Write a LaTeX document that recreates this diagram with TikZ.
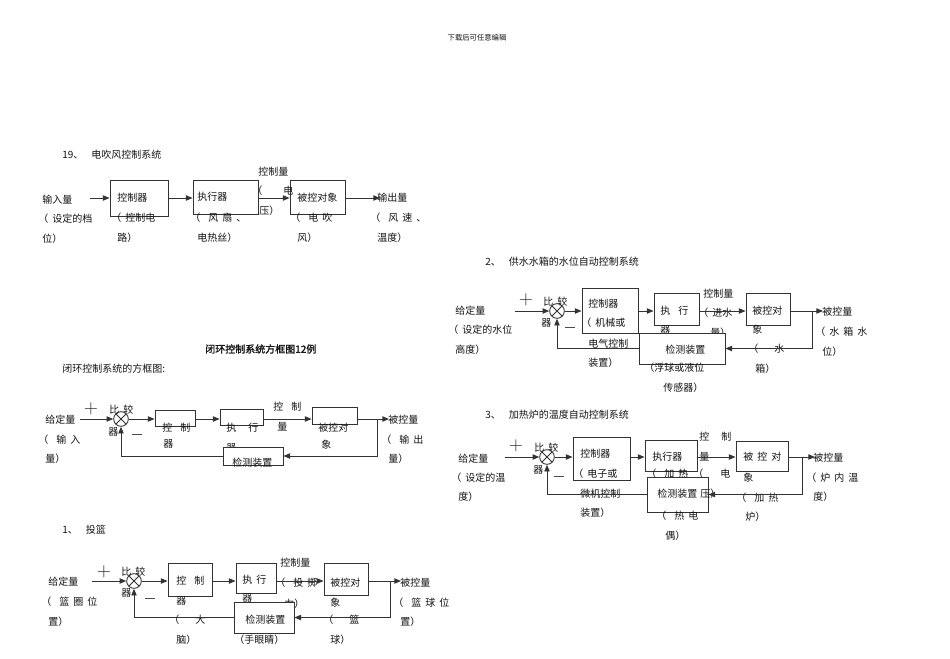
\documentclass[tikz,border=0pt]{standalone}
\usepackage{fontspec}
\newfontfamily\cjk{Noto Sans CJK SC}
\newfontfamily\cjkb[FakeBold=1.5]{Noto Sans CJK SC}
\usetikzlibrary{arrows.meta,fit}
\newcommand\gp{\hspace{3pt}}
\newcommand\gq{\hspace{6pt}}
\begin{document}
\begin{tikzpicture}[x=0.75pt,y=-0.75pt,
 txt/.style={anchor=west,inner sep=0pt,font=\cjk\fontsize{7.5}{9}\selectfont,text=black!92},
 ptx/.style={txt,xshift=-3pt},
 box/.style={draw=black!80,line width=0.65pt,inner sep=0pt},
 mbox/.style={box,fill=white},
 cmp/.style={draw=black!80,line width=0.65pt,circle,minimum size=11pt,inner sep=0pt,
   path picture={\draw[line width=0.65pt,black!80] (path picture bounding box.north west) -- (path picture bounding box.south east) (path picture bounding box.north east) -- (path picture bounding box.south west);}},
 arr/.style={line width=0.65pt,draw=black!80,-{Triangle[length=5pt,width=4pt]}},
 plussign/.style={inner sep=0pt,font=\fontsize{14}{14}\selectfont,text=black!85},
 minussign/.style={inner sep=0pt,text=black!70}]
\useasboundingbox (0,0) rectangle (950,658);
\fill[white] (0,0) rectangle (950,658);

% header
\node[txt,anchor=center,font=\cjk\fontsize{5.5}{6}\selectfont] (hdr) at (477,38) {下载后可任意编辑};

% ================= 19 =================
\node[txt] (h19) at (62,155) {19、\gq 电吹风控制系统};
\node[box,fit={(110,180)(168,216)}] (a1) {};
\node[box,fit={(193,180)(258,214)}] (a2) {};
\node[box,fit={(290,180)(345,214)}] (a3) {};
\coordinate (ai) at (90,198);
\coordinate (ao) at (380,198);
\draw[arr] (ai) -- (a1.west |- ai);
\draw[arr] (a1.east |- ai) -- (a2.west |- ai);
\draw[arr] (a2.east |- ai) -- (a3.west |- ai);
\draw[arr] (a3.east |- ai) -- (ao);
\node[txt] (a1t1) at (42,200) {输入量};
\node[ptx] (a1t2) at (42,219) {（\gp 设定的档};
\node[txt] (a1t3) at (42,239) {位）};
\node[txt] (a1t4) at (117,198) {控制器};
\node[ptx] (a1t5) at (115,218) {（\gp 控制电};
\node[txt] (a1t6) at (117,238) {路）};
\node[txt] (a2t1) at (197,197) {执行器};
\node[ptx] (a2t2) at (194,218) {（\gq 风\gp 扇\gp 、};
\node[txt] (a2t3) at (197,238) {电热丝）};
\node[txt] (a2t4) at (258,172) {控制量};
\node[ptx] (a2t5) at (256,191) {（};
\node[txt] (a2t6) at (283,191) {电};
\node[txt] (a2t7) at (259,211) {压）};
\node[txt] (a3t1) at (297,198) {被控对象};
\node[ptx] (a3t2) at (294,218) {（\gq 电\gp 吹};
\node[txt] (a3t3) at (297,238) {风）};
\node[txt] (a3t4) at (377,198) {输出量};
\node[ptx] (a3t5) at (374,218) {（\gq 风\gp 速\gp 、};
\node[txt] (a3t6) at (377,238) {温度）};

% ================= title =================
\node[txt,font=\cjkb\fontsize{7.5}{9}\selectfont] (ttl) at (205,349) {闭环控制系统方框图12例};
\node[txt] (sub) at (62,369) {闭环控制系统的方框图:};

% ================= generic loop =================
\node[plussign] (gpl) at (91,409) {+};
\node[minussign] (gmi) at (137,434) {\rule{7.5pt}{0.75pt}};
\node[cmp] (s0) at (121,419) {};
\node[txt] (s0t1) at (109,410) {比\gp 较};
\node[txt] (s0t2) at (108,432) {器};
\node[txt] (g0t1) at (45,420) {给定量};
\node[ptx] (g0t2) at (42,440) {（\gq 输\gp 入};
\node[txt] (g0t3) at (45,459) {量）};
\node[box,fit={(155,410)(195,426)}] (g1) {};
\node[box,fit={(220,409)(263,425)}] (g2) {};
\node[box,fit={(312,407)(357,424)}] (g3) {};
\node[txt] (g1t1) at (162,428) {控\gq 制};
\node[txt] (g1t2) at (163,444) {器};
\node[txt] (g2t1) at (226,428) {执\gq\gp 行};
\node[txt] (g2t2) at (226,448) {器};
\node[txt] (g2t3) at (273,407) {控\gq 制};
\node[txt] (g2t4) at (277,427) {量};
\node[txt] (g3t1) at (318,428) {被控对};
\node[txt] (g3t2) at (321,445) {象};
\node[txt] (g3t3) at (388,420) {被控量};
\node[ptx] (g3t4) at (385,440) {（\gq 输\gp 出};
\node[txt] (g3t5) at (388,459) {量）};
\node[mbox,fit={(223,447)(283,465)}] (g4) {};
\node[txt] (g4t) at (232,463) {检测装置};
\coordinate (gi) at (80,419);
\coordinate (gb) at (377,419);
\coordinate (go) at (389,419);
\draw[arr] (gi) -- (s0.west);
\draw[arr] (s0.east) -- (g1.west |- s0);
\draw[arr] (g1.east |- s0) -- (g2.west |- s0);
\draw[arr] (g2.east |- s0) -- (g3.west |- s0);
\draw[arr] (g3.east |- s0) -- (go);
\draw[arr] (gb) |- (g4.east);
\draw[arr] (g4.west) -| (s0.south);

% ================= 1 投篮 =================
\node[txt] (h1) at (62,530) {1、\gq 投篮};
\node[plussign] (bpl) at (104,572) {+};
\node[minussign] (bmi) at (150,598) {\rule{7.5pt}{0.75pt}};
\node[cmp] (s1) at (134,581) {};
\node[txt] (s1t1) at (121,572) {比\gp 较};
\node[txt] (s1t2) at (121,593) {器};
\node[txt] (b0t1) at (48,582) {给定量};
\node[ptx] (b0t2) at (45,602) {（\gq 篮\gp 圈\gp 位};
\node[txt] (b0t3) at (48,622) {置）};
\node[box,fit={(168,563)(212,596)}] (b1) {};
\node[box,fit={(236,563)(276,593)}] (b2) {};
\node[box,fit={(324,563)(368,595)}] (b3) {};
\node[txt] (b1t1) at (176,581) {控\gq 制};
\node[txt] (b1t2) at (176,601) {器};
\node[ptx] (b1t3) at (173,620) {（\gq\gq 大};
\node[txt] (b1t4) at (176,640) {脑）};
\node[txt] (b2t1) at (242,580) {执\gp 行};
\node[txt] (b2t2) at (242,598) {器};
\node[txt] (b2t3) at (280,563) {控制量};
\node[ptx] (b2t4) at (279,583) {（\gq 投\gp 掷};
\node[txt] (b2t5) at (284,604) {力）};
\node[txt] (b3t1) at (330,583) {被控对};
\node[txt] (b3t2) at (330,603) {象};
\node[ptx] (b3t3) at (327,620) {（\gq\gq 篮};
\node[txt] (b3t4) at (330,640) {球）};
\node[txt] (b3t5) at (400,583) {被控量};
\node[ptx] (b3t6) at (397,603) {（\gq 篮\gp 球\gp 位};
\node[txt] (b3t7) at (400,622) {置）};
\node[mbox,fit={(234,602)(294,633)}] (b4) {};
\node[txt] (b4t1) at (245,620) {检测装置};
\node[ptx] (b4t2) at (238,640) {（手眼睛）};
\coordinate (bi) at (92,581);
\coordinate (bb) at (390,581);
\coordinate (bo) at (401,581);
\draw[arr] (bi) -- (s1.west);
\draw[arr] (s1.east) -- (b1.west |- s1);
\draw[arr] (b1.east |- s1) -- (b2.west |- s1);
\draw[arr] (b2.east |- s1) -- (b3.west |- s1);
\draw[arr] (b3.east |- s1) -- (bo);
\draw[arr] (bb) |- (b4.east);
\draw[arr] (b4.west) -| (s1.south);

% ================= 2 供水水箱 =================
\node[txt] (h2) at (485,262) {2、\gq 供水水箱的水位自动控制系统};
\node[plussign] (wpl) at (526,300) {+};
\node[minussign] (wmi) at (570,327) {\rule{7.5pt}{0.75pt}};
\node[cmp] (s2) at (557,311) {};
\node[txt] (s2t1) at (543,302) {比\gp 较};
\node[txt] (s2t2) at (541,323) {器};
\node[txt] (w0t1) at (455,311) {给定量};
\node[ptx] (w0t2) at (452,330) {（\gp 设定的水位};
\node[txt] (w0t3) at (455,350) {高度）};
\node[box,fit={(582,288)(638,333)}] (w1) {};
\node[box,fit={(654,293)(699,325)}] (w2) {};
\node[box,fit={(746,293)(790,325)}] (w3) {};
\node[txt] (w1t1) at (588,304) {控制器};
\node[ptx] (w1t2) at (585,323) {（\gp 机械或};
\node[txt] (w1t3) at (588,344) {电气控制};
\node[txt] (w1t4) at (588,363) {装置）};
\node[txt] (w2t1) at (660,311) {执\gq 行};
\node[txt] (w2t2) at (660,330) {器};
\node[txt] (w2t3) at (703,294) {控制量};
\node[ptx] (w2t4) at (702,313) {（\gp 进水};
\node[txt] (w2t5) at (710,333) {量）};
\node[txt] (w3t1) at (752,311) {被控对};
\node[txt] (w3t2) at (752,330) {象};
\node[ptx] (w3t3) at (752,349) {（\gq\gq 水};
\node[txt] (w3t4) at (755,369) {箱）};
\node[txt] (w3t5) at (822,312) {被控量};
\node[ptx] (w3t6) at (819,332) {（\gp 水\gp 箱\gp 水};
\node[txt] (w3t7) at (822,352) {位）};
\node[mbox,fit={(639,333)(725,364)}] (w4) {};
\node[txt] (w4t1) at (665,350) {检测装置};
\node[ptx] (w4t2) at (648,368) {（浮球或液位};
\node[txt] (w4t3) at (663,388) {传感器）};
\coordinate (wi) at (515,311);
\coordinate (wb) at (812,311);
\coordinate (wo) at (823,311);
\draw[arr] (wi) -- (s2.west);
\draw[arr] (s2.east) -- (w1.west |- s2);
\draw[arr] (w1.east |- s2) -- (w2.west |- s2);
\draw[arr] (w2.east |- s2) -- (w3.west |- s2);
\draw[arr] (w3.east |- s2) -- (wo);
\draw[arr] (wb) |- (w4.east);
\draw[arr] (w4.west) -| (s2.south);

% ================= 3 加热炉 =================
\node[txt] (h3) at (485,415) {3、\gq 加热炉的温度自动控制系统};
\node[plussign] (hpl) at (516,446) {+};
\node[minussign] (hmi) at (559,476) {\rule{7.5pt}{0.75pt}};
\node[cmp] (s3) at (547,457) {};
\node[txt] (s3t1) at (534,448) {比\gp 较};
\node[txt] (s3t2) at (533,470) {器};
\node[txt] (h0t1) at (458,459) {给定量};
\node[ptx] (h0t2) at (455,478) {（\gp 设定的温};
\node[txt] (h0t3) at (458,497) {度）};
\node[box,fit={(573,437)(630,480)}] (h1b) {};
\node[box,fit={(645,440)(697,471)}] (h2b) {};
\node[box,fit={(736,441)(788,471)}] (h3b) {};
\node[txt] (h1t1) at (580,454) {控制器};
\node[ptx] (h1t2) at (577,474) {（\gp 电子或};
\node[txt] (h1t3) at (580,494) {微机控制};
\node[txt] (h1t4) at (580,513) {装置）};
\node[txt] (h2t1) at (652,457) {执行器};
\node[ptx] (h2t2) at (650,474) {（\gq 加\gp 热};
\node[txt] (h2t3) at (699,437) {控\gq\gp 制};
\node[txt] (h2t4) at (699,457) {量};
\node[ptx] (h2t5) at (697,474) {（};
\node[txt] (h2t6) at (720,474) {电};
\node[txt] (h3t1) at (743,457) {被\gp 控\gp 对};
\node[txt] (h3t2) at (743,478) {象};
\node[ptx] (h3t3) at (740,498) {（\gq 加\gp 热};
\node[txt] (h3t4) at (745,517) {炉）};
\node[txt] (h3t5) at (813,458) {被控量};
\node[ptx] (h3t6) at (810,478) {（\gp 炉\gp 内\gp 温};
\node[txt] (h3t7) at (813,497) {度）};
\node[mbox,fit={(647,477)(708,512)}] (h4b) {};
\node[txt] (h4t1) at (657,494) {检测装置};
\node[txt] (h4t2) at (700,494) {压）};
\node[ptx] (h4t3) at (660,516) {（\gq 热\gp 电};
\node[txt] (h4t4) at (665,536) {偶）};
\coordinate (hi) at (505,457);
\coordinate (hb) at (802,457);
\coordinate (ho) at (815,457);
\draw[arr] (hi) -- (s3.west);
\draw[arr] (s3.east) -- (h1b.west |- s3);
\draw[arr] (h1b.east |- s3) -- (h2b.west |- s3);
\draw[arr] (h2b.east |- s3) -- (h3b.west |- s3);
\draw[arr] (h3b.east |- s3) -- (ho);
\draw[arr] (hb) |- (h4b.east);
\draw[arr] (h4b.west) -| (s3.south);
\end{tikzpicture}
\end{document}
